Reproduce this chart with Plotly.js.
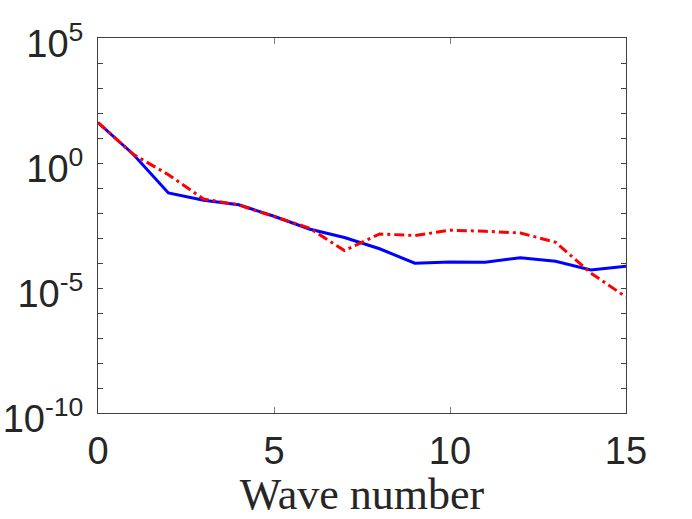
<!DOCTYPE html>
<html>
<head>
<meta charset="utf-8">
<script src="https://cdn.plot.ly/plotly-3.0.1.min.js"></script>
<style>
  body { margin: 0; background: white; }
  #chart { width: 692px; height: 519px; }
</style>
</head>
<body>
<div id="chart"></div>
<script>
// wave numbers 0..15
var waveNumbers = [0, 1, 2, 3, 4, 5, 6, 7, 8, 9, 10, 11, 12, 13, 14, 15];

// log10 of the amplitudes
var blueLog = [1.62, 0.35, -1.2, -1.49, -1.67, -2.13, -2.64, -2.98, -3.43, -4.01, -3.96, -3.97, -3.79, -3.93, -4.28, -4.13];
var redLog = [1.62, 0.35, -0.47, -1.44, -1.68, -2.13, -2.6, -3.5, -2.84, -2.9, -2.69, -2.73, -2.8, -3.17, -4.4, -5.36];

var yTickExp = [5, 4, 3, 2, 1, 0, -1, -2, -3, -4, -5, -6, -7, -8, -9, -10];
var yTickLabels = ['10<sup>5</sup>', '', '', '', '', '10<sup>0</sup>', '', '', '', '',
  '10<sup>-5</sup>', '', '', '', '', '10<sup>-10</sup>'];

function pow10(arr) {
  return arr.map(function(v) { return Math.pow(10, v); });
}

var blue = {
  x: waveNumbers,
  y: pow10(blueLog),
  type: 'scatter',
  mode: 'lines',
  showlegend: false,
  line: { color: '#0000ff', width: 3 }
};

var red = {
  x: waveNumbers,
  y: pow10(redLog),
  type: 'scatter',
  mode: 'lines',
  showlegend: false,
  line: { color: '#ff0000', width: 3, dash: '10px,4px,3px,4px' }
};

var layout = {
  width: 692,
  height: 519,
  paper_bgcolor: 'white',
  plot_bgcolor: 'white',
  font: { family: 'Liberation Sans, Arial, sans-serif', color: '#262626', size: 38 },
  margin: { l: 97.5, r: 65.5, t: 38.3, b: 105.7, pad: 0 },
  xaxis: {
    range: [0, 15],
    tickvals: [0, 5, 10, 15],
    ticktext: ['0', '5', '10', '15'],
    ticks: 'inside',
    ticklen: 6,
    tickcolor: '#808080',
    ticklabelstandoff: 4,
    showgrid: false,
    zeroline: false,
    showline: true,
    linecolor: '#404040',
    linewidth: 1,
    mirror: 'ticks',
    tickfont: { size: 38 },
    title: {
      text: 'Wave number',
      font: { family: 'Liberation Serif, Times New Roman, serif', size: 44, color: '#262626' },
      standoff: 5
    }
  },
  yaxis: {
    type: 'log',
    range: [-10, 5],
    tickvals: pow10(yTickExp),
    ticktext: yTickLabels,
    ticks: 'inside',
    ticklen: 5,
    tickcolor: '#404040',
    ticklabelstandoff: 6,
    ticklabelshift: 6,
    showgrid: false,
    zeroline: false,
    showline: true,
    linecolor: '#404040',
    linewidth: 1,
    mirror: 'ticks',
    tickfont: { size: 38 }
  }
};

Plotly.newPlot('chart', [blue, red], layout, { staticPlot: true });
</script>
</body>
</html>
